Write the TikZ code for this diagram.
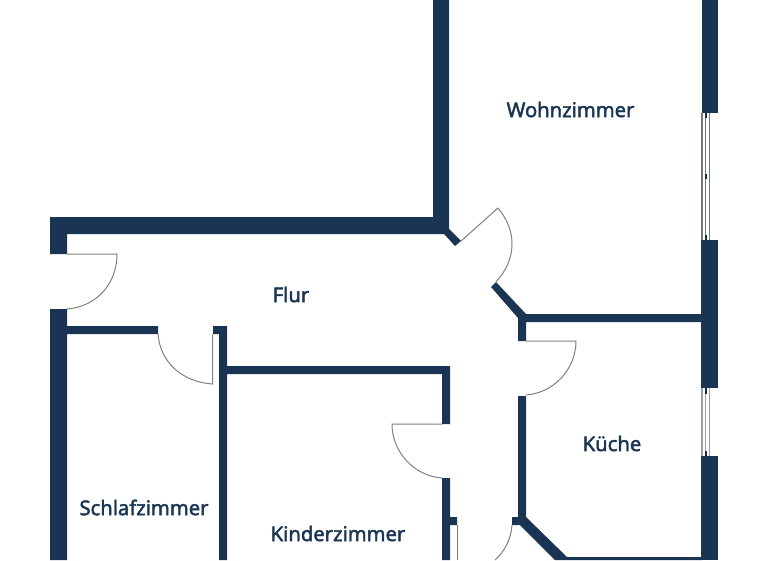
\documentclass[tikz,border=0pt]{standalone}
\usepackage{fontspec}
\setmainfont{Noto Sans}
\newfontfamily\roomfont[FakeBold=2]{Noto Sans}
\definecolor{wallc}{HTML}{1A3454}
\definecolor{doorc}{HTML}{808080}
\definecolor{glassc}{HTML}{9AA0A8}
\definecolor{glassd}{HTML}{6E7A88}
\tikzset{
  wall/.style={fill=wallc,draw=none},
  door/.style={draw=doorc,line width=1pt},
  glass/.style={draw=glassc,line width=1.3pt},
  glassdark/.style={draw=glassd,line width=1.3pt},
  tick/.style={draw=wallc!85!black,line width=2pt},
  room/.style={text=wallc,font=\roomfont\fontsize{20.2}{22}\selectfont,inner sep=0pt,anchor=center}
}
\begin{document}
\begin{tikzpicture}[x=1pt,y=-1pt]
\useasboundingbox[fill=white] (0,0) rectangle (768,560);
% outer top wall, left stub, chamfer
\fill[wall] (50,217) -- (433,217) -- (433,0) -- (449,0) -- (449,229) -- (461,241) -- (455,246) -- (444,234) -- (67,234) -- (67,254) -- (50,254) -- cycle;
% left wall and Schlafzimmer top wall
\fill[wall] (50,309) -- (67,309) -- (67,326) -- (158,326) -- (158,334) -- (67,334) -- (67,560) -- (50,560) -- cycle;
% Kinderzimmer walls
\fill[wall] (213,326) -- (227,326) -- (227,366) -- (450,366) -- (450,424) -- (442,424) -- (442,374) -- (227,374) -- (227,560) -- (219,560) -- (219,334) -- (213,334) -- cycle;
\fill[wall] (442,478) -- (450,478) -- (450,517) -- (457,517) -- (457,525) -- (450,525) -- (450,560) -- (442,560) -- cycle;
% Wohnzimmer / Kueche walls
\fill[wall] (491,287) -- (496,282) -- (526,314) -- (702,314) -- (702,322) -- (526,322) -- (526,341) -- (518,341) -- (518,318) -- cycle;
\fill[wall] (518,396) -- (526,396) -- (526,517) -- (567,557) -- (702,557) -- (702,560) -- (555,560) -- (520,525) -- (512,525) -- (512,517) -- (518,517) -- cycle;
% right wall
\fill[wall] (702,0) -- (718,0) -- (718,113) -- (702,113) -- cycle;
\fill[wall] (701,240) -- (718,240) -- (718,388) -- (701,388) -- cycle;
\fill[wall] (701,456) -- (718,456) -- (718,560) -- (701,560) -- cycle;
% windows
\draw[glassdark] (702,113) -- (702,240) (705.7,113) -- (705.7,240) (709.3,113) -- (709.3,240);
\draw[tick] (705.7,113) -- (705.7,118) (705.7,174) -- (705.7,179) (705.7,235) -- (705.7,240);
\draw[glass] (702,388) -- (702,456) (705.7,388) -- (705.7,456) (709.3,388) -- (709.3,456);
\draw[tick] (705.7,388) -- (705.7,394) (705.7,451) -- (705.7,456);
% doors
\draw[door] (67,254) -- (117,254) .. controls (117,285) and (95,307) .. (67,309);
\draw[door] (158,334) .. controls (160,362) and (182,382) .. (212.5,384) -- (212.5,334);
\draw[door] (442,424) -- (392,424) .. controls (392,452) and (414,476) .. (442,478);
\draw[door] (526,341) -- (576,341) .. controls (576,370) and (553,393) .. (526,395);
\draw[door] (461,241) -- (498,208) .. controls (518,232) and (516,260) .. (496,282);
\draw[door] (512,525) .. controls (511,540) and (504,552) .. (495,560);
\draw[door] (457,525) -- (457,560);
% labels
\node[room] (wohn) at (570.5,109.5) {Wohnzimmer};
\node[room] (flur) at (291,294.5) {Flur};
\node[room] (kueche) at (612,443.5) {Küche};
\node[room] (schlaf) at (144,507.5) {Schlafzimmer};
\node[room] (kinder) at (338,533.5) {Kinderzimmer};
\end{tikzpicture}
\end{document}
